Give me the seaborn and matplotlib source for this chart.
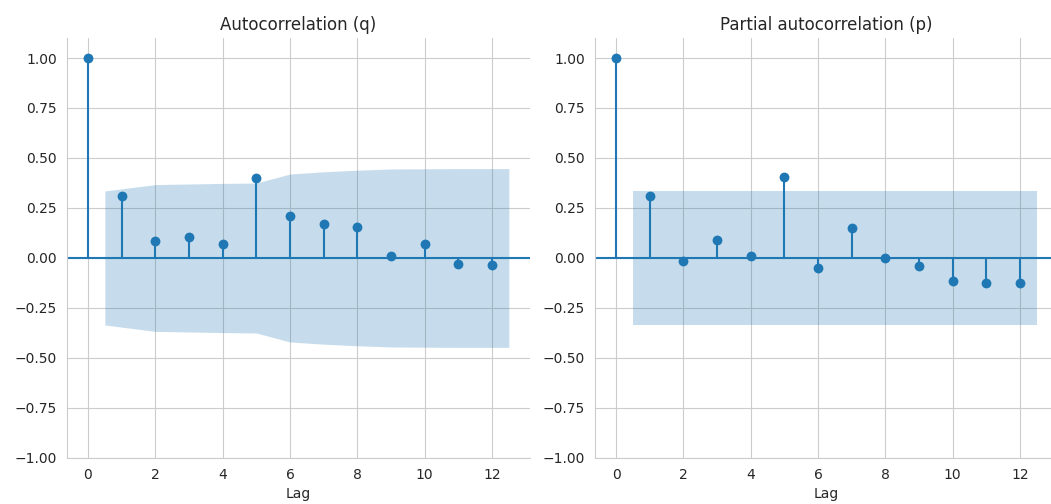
import numpy as np
import matplotlib
matplotlib.use("Agg")
import matplotlib.pyplot as plt
import seaborn as sns

lags = np.arange(13)
acf_vals = [1.0, 0.312, 0.087, 0.107, 0.072, 0.398, 0.21, 0.172, 0.157, 0.01, 0.072, -0.032, -0.037]
pacf_vals = [1.0, 0.308, -0.013, 0.088, 0.012, 0.405, -0.052, 0.152, 0.002, -0.04, -0.115, -0.127, -0.127]
# half-width of the confidence band for lags 1..12
acf_band = [0.335, 0.367, 0.370, 0.373, 0.375, 0.420, 0.431, 0.439, 0.445, 0.446, 0.447, 0.447]
pacf_band = [0.336] * 12
titles = ["Autocorrelation (q)", "Partial autocorrelation (p)"]

COLOR = "#1f77b4"

sns.set_style("whitegrid")
fig = plt.figure(figsize=(10.51, 5.04), dpi=100)
axes = [fig.add_axes([0.0637, 0.0913, 0.4405, 0.8333]),
        fig.add_axes([0.5661, 0.0913, 0.4405, 0.8333])]

yticks = np.arange(-1, 1.01, 0.25)

for ax, vals, band, title in zip(axes, [acf_vals, pacf_vals], [acf_band, pacf_band], titles):
    ax.vlines(lags, 0, vals, color=COLOR, linewidth=1.5)
    sns.scatterplot(x=lags, y=vals, ax=ax, color=COLOR, s=50, linewidth=0, zorder=3)
    ax.axhline(0, color=COLOR, linewidth=1.5)
    band_x = lags[1:].astype(float)
    band_x[0] -= 0.5
    band_x[-1] += 0.5
    band = np.array(band)
    ax.fill_between(band_x, -band, band, color=COLOR, alpha=0.25, linewidth=0)
    ax.margins(x=0.05)
    ax.set_ylim(-1, 1.1)
    ax.set_yticks(yticks)
    ax.set_yticklabels(["{0:.2f}".format(y).replace("-", "\u2212") for y in yticks])
    ax.set_xticks(range(0, 13, 2))
    ax.tick_params(labelsize=10, colors="#262626")
    ax.set_title(title, fontsize=12, color="#262626")
    ax.set_xlabel("Lag", fontsize=10, color="#262626")
    sns.despine(ax=ax)

fig.savefig("out.png", dpi=100)
